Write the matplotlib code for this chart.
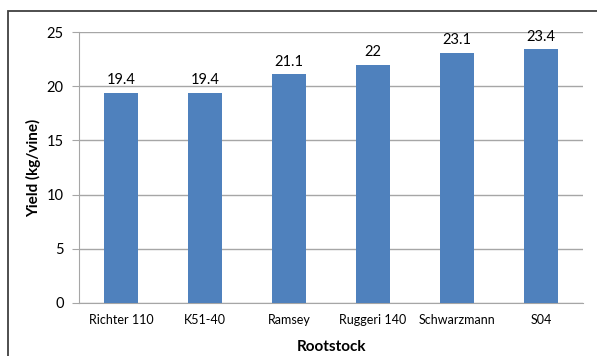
import matplotlib
matplotlib.use("Agg")
import matplotlib.pyplot as plt
from matplotlib.patches import Rectangle

categories = ["Richter 110", "K51-40", "Ramsey", "Ruggeri 140", "Schwarzmann", "S04"]
yields = [19.4, 19.4, 21.1, 22, 23.1, 23.4]
yticks = [0, 5, 10, 15, 20, 25]

plt.rcParams["font.family"] = ["Lato", "DejaVu Sans"]

W, H = 597, 356
fig = plt.figure(figsize=(W / 100, H / 100), dpi=100)
fig.patch.set_facecolor("white")

# outer chart frame (open on the right and bottom)
fig.add_artist(Rectangle((8 / W, -0.05), 1.2, (H - 11) / H + 0.05,
                         transform=fig.transFigure, fill=False,
                         edgecolor="#404040", linewidth=1.3))

ax = fig.add_axes([79 / W, 1 - 303 / H, (583 - 79) / W, (303 - 32) / H])
x = list(range(len(categories)))
bars = ax.bar(x, yields, width=0.405, color="#4F81BD", zorder=3)

for xi, v in zip(x, yields):
    ax.annotate(f"{v:g}", (xi, v), xytext=(0, 4), textcoords="offset points",
                ha="center", va="bottom", fontsize=10.5, color="black")

ax.set_xlim(-0.5, len(categories) - 0.5)
ax.set_ylim(0, 25)
ax.set_yticks(yticks)
ax.set_yticklabels([str(t) for t in yticks], fontsize=10.5)
ax.set_xticks(x)
ax.set_xticklabels(categories, fontsize=9)
ax.yaxis.grid(True, color="#A6A6A6", linewidth=1.0, zorder=0)

for s in ["top", "right"]:
    ax.spines[s].set_visible(False)
ax.spines["left"].set_color("#A6A6A6")
ax.spines["bottom"].set_color("#A6A6A6")
ax.tick_params(axis="y", length=5, color="#A6A6A6", pad=6)
ax.tick_params(axis="x", length=0, pad=8)

ax.set_ylabel("Yield (kg/vine)", fontsize=11, fontweight="bold", labelpad=4)
ax.set_xlabel("Rootstock", fontsize=11, fontweight="bold", labelpad=10)

fig.savefig("out.png", dpi=100)
